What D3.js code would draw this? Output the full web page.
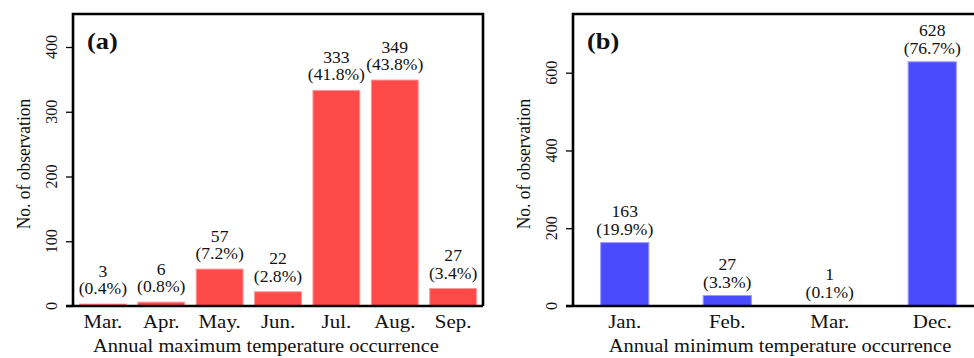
<!DOCTYPE html>
<html>
<head>
<meta charset="utf-8">
<script src="https://cdn.jsdelivr.net/npm/d3@7"></script>
<style>
  html, body { margin: 0; padding: 0; background: #fff; }
  svg { display: block; }
  text { font-family: "Liberation Serif", "Times New Roman", serif; fill: #111; }
</style>
</head>
<body>
<svg id="chart" width="974" height="358"></svg>
<script>
// Month of annual maximum temperature (panel a)
const maxMonths = ["Mar.", "Apr.", "May.", "Jun.", "Jul.", "Aug.", "Sep."];
const maxCounts = [3, 6, 57, 22, 333, 349, 27];
const maxPercents = ["0.4%", "0.8%", "7.2%", "2.8%", "41.8%", "43.8%", "3.4%"];
const maxTicks = [0, 100, 200, 300, 400];

// Month of annual minimum temperature (panel b)
const minMonths = ["Jan.", "Feb.", "Mar.", "Dec."];
const minCounts = [163, 27, 1, 628];
const minPercents = ["19.9%", "3.3%", "0.1%", "76.7%"];
const minTicks = [0, 200, 400, 600];

const svg = d3.select("#chart");
const SX = 1.1; // slight horizontal widening of the lettering

function label(g, x, y, str, size, opts = {}) {
  const t = g.append("text")
    .attr("transform", `translate(${x},${y}) scale(${SX},1)` + (opts.rotate ? ` rotate(${opts.rotate})` : ""))
    .attr("text-anchor", opts.anchor || "middle")
    .attr("font-size", size)
    .text(str);
  if (opts.bold) t.attr("font-weight", "bold");
  return t;
}

function panel(cfg) {
  const g = svg.append("g");
  const x = d3.scaleBand()
    .domain(cfg.cats)
    .range([cfg.left, cfg.right])
    .paddingInner(cfg.pin)
    .paddingOuter(cfg.pout);
  const y = d3.scaleLinear()
    .domain([0, cfg.yTop])
    .range([cfg.bottom, cfg.yTopPx]);

  // bars
  g.selectAll("rect.bar")
    .data(cfg.cats.map((c, i) => ({ c, v: cfg.counts[i], p: cfg.pct[i] })))
    .join("rect")
    .attr("class", "bar")
    .attr("x", d => x(d.c))
    .attr("width", x.bandwidth())
    .attr("y", d => y(d.v))
    .attr("height", d => y(0) - y(d.v))
    .attr("fill", cfg.color)
    .attr("stroke", cfg.edge)
    .attr("stroke-width", 1);

  // value labels: count over percentage
  cfg.cats.forEach((c, i) => {
    const cx = x(c) + x.bandwidth() / 2;
    const top = y(cfg.counts[i]);
    label(g, cx, top - cfg.gap, `(${cfg.pct[i]})`, 16);
    label(g, cx, top - cfg.gap - 17.5, String(cfg.counts[i]), 16);
  });

  // frame
  g.append("path")
    .attr("d", `M${cfg.left},${cfg.bottom} V${cfg.top} H${cfg.right} V${cfg.bottom}`)
    .attr("fill", "none")
    .attr("stroke", "#000")
    .attr("stroke-width", 2.6);
  // baseline axis
  g.append("line")
    .attr("x1", cfg.left - 7).attr("x2", cfg.right)
    .attr("y1", cfg.bottom).attr("y2", cfg.bottom)
    .attr("stroke", "#000").attr("stroke-width", 2.6);

  // y axis ticks
  const yAxis = d3.axisLeft(y).tickValues(cfg.ticks).tickSize(7).tickFormat("");
  const ya = g.append("g").attr("transform", `translate(${cfg.left},0)`).call(yAxis);
  ya.select(".domain").remove();
  ya.selectAll("line").attr("stroke", "#000").attr("stroke-width", 1.3);
  cfg.ticks.forEach(t => {
    label(g, cfg.left - 16, y(t), String(t), 16, { rotate: -90 });
  });

  // x tick labels
  cfg.cats.forEach(c => {
    label(g, x(c) + x.bandwidth() / 2, 328, c, 19);
  });

  // axis titles
  label(g, cfg.xTitleX, 352, cfg.xTitle, 18.6);
  label(g, cfg.left - 43, (cfg.top + cfg.bottom) / 2 + 4, "No. of observation", 17.5, { rotate: -90 });

  // panel tag
  label(g, cfg.left + 14, 49, cfg.tag, 24, { anchor: "start", bold: true });
}

panel({
  cats: maxMonths, counts: maxCounts, pct: maxPercents, ticks: maxTicks,
  left: 73, right: 483, top: 14, bottom: 306,
  yTop: 400, yTopPx: 47,
  pin: 0.197, pout: 0.11, gap: 10,
  color: "#ff4a4a", edge: "#ff9a9a",
  xTitle: "Annual maximum temperature occurrence", xTitleX: 266,
  tag: "(a)"
});

panel({
  cats: minMonths, counts: minCounts, pct: minPercents, ticks: minTicks,
  left: 573, right: 984, top: 14, bottom: 306,
  yTop: 600, yTopPx: 72.7,
  pin: 0.53, pout: 0.27, gap: 8,
  color: "#4a4aff", edge: "#9a9aff",
  xTitle: "Annual minimum temperature occurrence", xTitleX: 780,
  tag: "(b)"
});
</script>
</body>
</html>
